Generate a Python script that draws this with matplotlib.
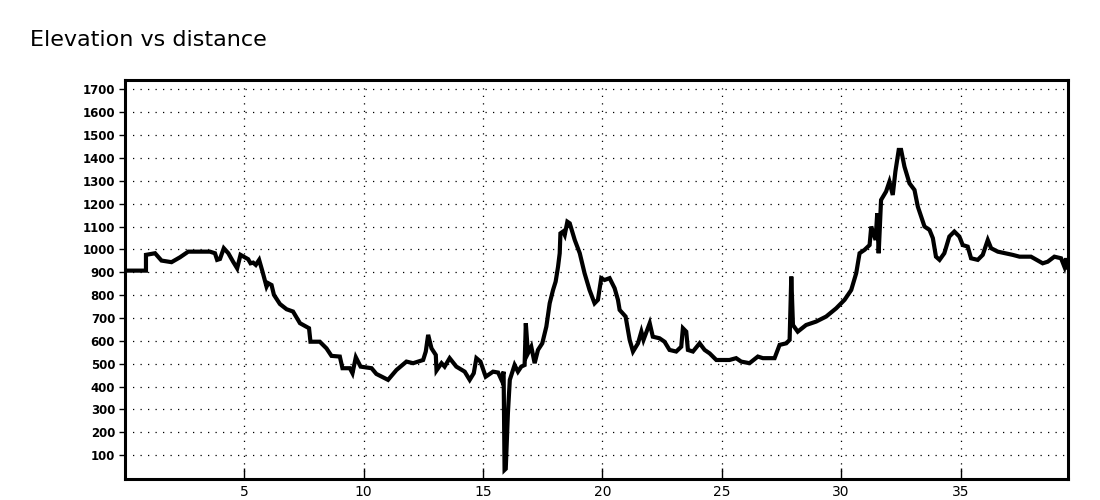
import matplotlib
matplotlib.use("Agg")
import matplotlib.pyplot as plt

# distance (km) and elevation (m)
distance = [0.0, 0.88, 0.88, 1.26, 1.53, 1.95, 2.3, 2.65, 3.56, 3.77, 3.86, 3.98, 4.14,
            4.33, 4.53, 4.7, 4.84, 5.02, 5.16, 5.26, 5.37, 5.48, 5.62, 5.76, 5.93, 6.0,
            6.14, 6.24, 6.49, 6.77, 7.04, 7.33, 7.71, 7.77, 8.16, 8.44, 8.65, 9.0, 9.11,
            9.42, 9.53, 9.67, 9.87, 10.33, 10.53, 11.02, 11.37, 11.79, 12.07, 12.49, 12.6,
            12.7, 12.84, 13.02, 13.05, 13.26, 13.39, 13.6, 13.88, 14.23, 14.44, 14.61,
            14.72, 14.89, 15.11, 15.42, 15.63, 15.77, 15.86, 15.9, 15.95, 16.04, 16.12,
            16.32, 16.46, 16.6, 16.74, 16.79, 16.88, 17.02, 17.16, 17.3, 17.48, 17.65,
            17.79, 17.93, 18.04, 18.14, 18.21, 18.24, 18.35, 18.42, 18.53, 18.63, 18.84,
            19.05, 19.25, 19.46, 19.67, 19.81, 19.95, 20.09, 20.3, 20.51, 20.65, 20.72,
            20.97, 21.14, 21.28, 21.49, 21.63, 21.72, 21.98, 22.11, 22.39, 22.6, 22.81,
            23.09, 23.3, 23.37, 23.51, 23.58, 23.79, 24.07, 24.28, 24.49, 24.77, 25.32,
            25.6, 25.81, 26.16, 26.51, 26.72, 27.21, 27.42, 27.7, 27.84, 27.91, 27.98,
            28.18, 28.53, 28.95, 29.37, 29.79, 30.14, 30.42, 30.63, 30.77, 30.98, 31.19,
            31.26, 31.44, 31.51, 31.57, 31.67, 31.88, 32.02, 32.16, 32.27, 32.41, 32.51,
            32.65, 32.86, 33.07, 33.21, 33.35, 33.49, 33.7, 33.84, 33.97, 34.12, 34.32,
            34.53, 34.74, 34.95, 35.09, 35.3, 35.44, 35.72, 35.93, 36.14, 36.28, 36.56,
            37.18, 37.47, 37.95, 38.44, 38.65, 38.93, 39.21, 39.35, 39.42, 39.5]
elevation = [907, 907, 976, 983, 951, 944, 965, 990, 990, 983, 954, 958, 1005,
             983, 946, 917, 976, 965, 957, 939, 942, 932, 954, 903, 837, 852,
             844, 801, 761, 738, 728, 677, 655, 596, 596, 567, 534, 531, 480,
             480, 458, 528, 487, 480, 455, 429, 472, 509, 502, 516, 553,
             626, 567, 538, 470, 502, 487, 524, 487, 465, 429, 458,
             524, 509, 443, 465, 461, 429, 465, 35, 40, 283, 429,
             494, 465, 487, 494, 677, 545, 574, 502, 560, 589, 662,
             764, 822, 859, 924, 983, 1070, 1078, 1063, 1121, 1114, 1041,
             983, 896, 822, 764, 779, 874, 866, 874, 830, 779, 735,
             706, 604, 553, 589, 640, 604, 677, 618, 611, 596, 560,
             553, 574, 655, 640, 560, 553, 589, 560, 545, 516, 516,
             524, 509, 502, 531, 524, 524, 582, 589, 604, 881, 669,
             640, 669, 684, 706, 742, 779, 822, 896, 983, 998, 1019,
             1100, 1041, 1158, 983, 1216, 1253, 1296, 1238, 1340, 1435, 1435,
             1362, 1289, 1260, 1187, 1143, 1100, 1085, 1049, 968, 954, 983,
             1056, 1078, 1056, 1019, 1012, 961, 954, 976, 1041, 1005, 990,
             976, 968, 968, 939, 946, 968, 961, 924, 961, 920]

x_ticks = [5, 10, 15, 20, 25, 30, 35]
y_ticks = list(range(100, 1800, 100))

fig = plt.figure(figsize=(11, 5), dpi=100)
ax = fig.add_axes([0.1136, 0.0414, 0.8573, 0.7986])

ax.plot(distance, elevation, color="black", lw=3, solid_joinstyle="miter")

ax.set_xlim(0, 39.5)
ax.set_ylim(-6, 1741)
ax.set_xticks(x_ticks)
ax.set_yticks(y_ticks)

ax.grid(True, color="black", lw=0.9, linestyle=(0, (1, 5)))

for s in ax.spines.values():
    s.set_linewidth(2.2)

ax.tick_params(axis="x", direction="in", length=8, width=1, labelsize=10, pad=4)
ax.tick_params(axis="y", direction="out", length=4, width=1, labelsize=8.5, pad=3)
for lab in ax.get_yticklabels():
    lab.set_fontweight("bold")

fig.text(0.027, 0.92, "Elevation vs distance", fontsize=16, ha="left", va="center")

fig.savefig("out.png", dpi=100)
